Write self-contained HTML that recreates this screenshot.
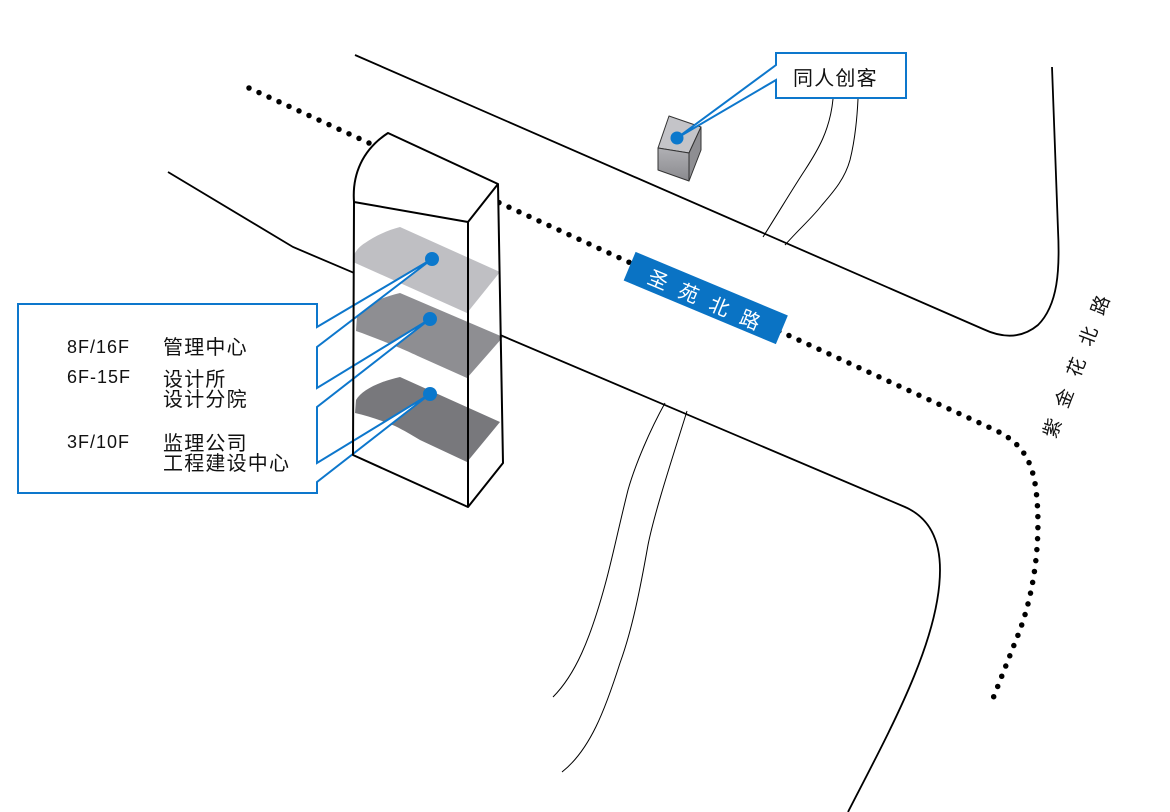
<!DOCTYPE html>
<html>
<head>
<meta charset="utf-8">
<style>
  html,body{margin:0;padding:0;background:#fff;}
  body{width:1170px;height:812px;overflow:hidden;}
  svg{display:block;}
  .t{font-family:"Liberation Sans","Noto Sans CJK SC",sans-serif;}
</style>
</head>
<body>
<svg width="1170" height="812" viewBox="0 0 1170 812" xmlns="http://www.w3.org/2000/svg">
  <defs>
    <linearGradient id="cf" x1="0" y1="0" x2="0" y2="1">
      <stop offset="0" stop-color="#b0b0b4"/>
      <stop offset="1" stop-color="#8a8a8e"/>
    </linearGradient>
  </defs>
  <rect width="1170" height="812" fill="#fff"/>

  <!-- road line 1 (top) -->
  <path d="M355,55 L983,329 C1000,337 1020,340 1038,325 C1058,305 1060,270 1058,230 L1052,67" fill="none" stroke="#000" stroke-width="1.8"/>
  <!-- road line 2 -->
  <path d="M168,172 L293,247 L905,507 C930,518 940,540 940,570 C940,640 890,730 848,812" fill="none" stroke="#000" stroke-width="1.8"/>

  <!-- thin lines upper -->
  <path d="M763,237 C780,210 795,185 805,170 C818,150 830,130 833,99" fill="none" stroke="#000" stroke-width="1"/>
  <path d="M785,245 C800,228 812,218 822,205 C835,190 845,178 850,160 C855,140 857,120 858,99" fill="none" stroke="#000" stroke-width="1"/>
  <!-- thin lines lower -->
  <path d="M665,403 C650,430 635,465 628,490 C618,530 612,560 605,585 C590,640 575,675 553,697" fill="none" stroke="#000" stroke-width="1"/>
  <path d="M687,411 C675,450 655,510 648,545 C640,590 632,630 620,663 C605,710 590,750 562,772" fill="none" stroke="#000" stroke-width="1"/>

  <!-- dotted road -->
  <path d="M249,88 L995,430 C1020,442 1032,458 1036,490 C1041,530 1037,590 1016,640 L992,701" fill="none" stroke="#000" stroke-width="5.5" stroke-linecap="round" stroke-dasharray="0 11"/>

  <!-- building fill -->
  <path d="M388,133 L498,184 L503,463 L468,507 L353,455 L354,202 C352,175 362,150 388,133 Z" fill="#fff"/>

  <!-- floors -->
  <path d="M400,227 L500,272 L467,313 L353,262 L353,257 C356,250 360,246 365,243 C375,236 388,230 400,227 Z" fill="#bfbfc3"/>
  <path d="M400,293 L503,337 L467,378 L420,357 C405,350 398,347 385,342 C375,338 365,334 356,331 L357,316 C362,308 372,300 400,293 Z" fill="#8e8e92"/>
  <path d="M400,377 L500,422 L467,462 L420,440 C410,434 405,431 395,426 C380,420 368,416 355,413 L356,400 C362,390 378,382 400,377 Z" fill="#78787c"/>

  <!-- callout left (white fill) -->
  <path d="M18,304 L317,304 L317,327 L432,259 L317,347 L317,388 L430,319 L317,407 L317,463 L430,394 L317,482 L317,493 L18,493 Z" fill="#fff" stroke="#0d77cc" stroke-width="2" stroke-linejoin="miter"/>

  <!-- building outlines -->
  <g fill="none" stroke="#000" stroke-width="2" stroke-linejoin="round">
    <path d="M354,202 C352,175 362,150 388,133 L498,184 L468,222 L354,202 Z"/>
    <path d="M354,202 L353,455 L468,507 L503,463 L498,184"/>
    <path d="M468,222 L468,507"/>
  </g>

  <!-- blue dots on floors -->
  <circle cx="432" cy="259" r="7" fill="#0b78cc"/>
  <circle cx="430" cy="319" r="7" fill="#0b78cc"/>
  <circle cx="430" cy="394" r="7" fill="#0b78cc"/>

  <!-- callout text -->
  <g class="t" fill="#111">
    <text x="67" y="353" font-size="18" letter-spacing="1">8F/16F</text>
    <text x="67" y="383" font-size="18" letter-spacing="1">6F-15F</text>
    <text x="67" y="448" font-size="18" letter-spacing="1">3F/10F</text>
    <text x="163" y="354" font-size="20" letter-spacing="1.2">管理中心</text>
    <text x="163" y="386" font-size="20" letter-spacing="1.2">设计所</text>
    <text x="163" y="406" font-size="20" letter-spacing="1.2">设计分院</text>
    <text x="163" y="450" font-size="20" letter-spacing="1.2">监理公司</text>
    <text x="163" y="470" font-size="20" letter-spacing="1.2">工程建设中心</text>
  </g>

  <!-- cube -->
  <g stroke="#333" stroke-width="1" stroke-linejoin="round">
    <polygon points="669,116 701,127 689,153 658,148" fill="#c4c4c8"/>
    <polygon points="658,148 689,153 689,181 658,170" fill="url(#cf)"/>
    <polygon points="701,127 701,150 689,181 689,153" fill="#8e8e92"/>
  </g>

  <!-- 同人创客 callout -->
  <path d="M776,53 L906,53 L906,98 L776,98 L776,80 L677,138 L776,65 Z" fill="#fff" stroke="#0d77cc" stroke-width="2"/>
  <circle cx="677" cy="138" r="6.5" fill="#0b78cc"/>
  <text class="t" x="793" y="85" font-size="20" letter-spacing="1.2" fill="#111">同人创客</text>

  <!-- 圣苑北路 label -->
  <rect x="-82.5" y="-15.5" width="165" height="31" fill="#0a73c4" transform="translate(705.75,298) rotate(22.7)"/>
  <g class="t" fill="#fff" font-size="20" text-anchor="middle">
    <text transform="translate(658,280) rotate(22.7)" y="7">圣</text>
    <text transform="translate(688.7,293.3) rotate(22.7)" y="7">苑</text>
    <text transform="translate(719.3,306.7) rotate(22.7)" y="7">北</text>
    <text transform="translate(750,320) rotate(22.7)" y="7">路</text>
  </g>

  <!-- 紫金花北路 -->
  <g class="t" fill="#111" font-size="19" text-anchor="middle">
    <text transform="translate(1052,428) rotate(-69)" y="7">紫</text>
    <text transform="translate(1064,398) rotate(-69)" y="7">金</text>
    <text transform="translate(1076,367) rotate(-69)" y="7">花</text>
    <text transform="translate(1088,336) rotate(-69)" y="7">北</text>
    <text transform="translate(1100,305) rotate(-69)" y="7">路</text>
  </g>
</svg>
</body>
</html>
